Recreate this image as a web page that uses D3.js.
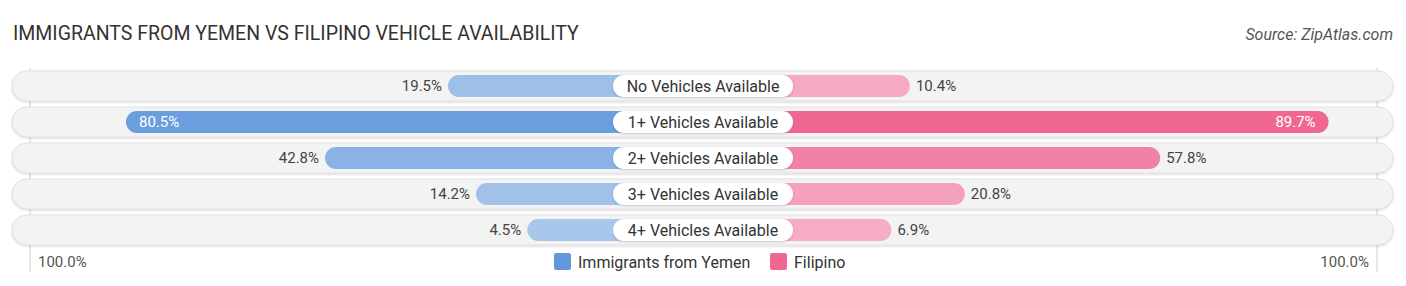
<!DOCTYPE html>
<html><head>
<meta charset="UTF-8">
<title>Immigrants from Yemen vs Filipino Vehicle Availability</title>
<script src="https://d3js.org/d3.v7.min.js"></script>
<style>
  body { margin: 0; background: #fff; font-family: Roboto, "Noto Sans", sans-serif; }
  .val { font-size: 15px; fill: #444; }
  .cat { font-size: 16px; fill: #333; }
</style>
</head>
<body>
<script>
// data
var categories = ["No Vehicles Available", "1+ Vehicles Available", "2+ Vehicles Available", "3+ Vehicles Available", "4+ Vehicles Available"];
var yemen = [19.5, 80.5, 42.8, 14.2, 4.5];
var filipino = [10.4, 89.7, 57.8, 20.8, 6.9];
var seriesNames = ["Immigrants from Yemen", "Filipino"];
var axisLabels = ["100.0%", "100.0%"];

var width = 1406, height = 286, cx = 703, gap = 152;

var svg = d3.select("body").append("svg")
    .attr("width", width)
    .attr("height", height);

var defs = svg.append("defs");
var f = defs.append("filter").attr("id", "sh").attr("x", "-5%").attr("y", "-30%").attr("width", "110%").attr("height", "160%");
f.append("feDropShadow").attr("dx", 0).attr("dy", 1).attr("stdDeviation", 1.2).attr("flood-color", "#000").attr("flood-opacity", 0.18);

// scales
var xL = d3.scaleLinear().domain([0, 100]).range([cx - gap, 23]);
var xR = d3.scaleLinear().domain([0, 100]).range([cx + gap, 1383]);
var y = d3.scaleBand().domain(categories).range([68, 248]).paddingInner(0.2).paddingOuter(0.1);

var blue = d3.scaleLinear().domain([0, 100]).range(["#adc9ec", "#5b94da"]);
var pink = d3.scaleLinear().domain([0, 100]).range(["#f7b2c8", "#ef5f8c"]);

// title
svg.append("text").attr("x", 13).attr("y", 40)
   .style("font-size", "19.5px").style("fill", "#333")
   .text("IMMIGRANTS FROM YEMEN VS FILIPINO VEHICLE AVAILABILITY");
svg.append("text").attr("x", 1393).attr("y", 40).attr("text-anchor", "end")
   .style("font-size", "16px").style("font-style", "italic").style("fill", "#555")
   .text("Source: ZipAtlas.com");

// vertical guide lines
[xL(100) + 7, xR(100) - 6].forEach(function (x) {
  svg.append("line").attr("x1", x).attr("x2", x).attr("y1", 68).attr("y2", 272)
     .style("stroke", "#ccc").style("stroke-width", 1);
});

var rows = svg.selectAll("g.row").data(categories).enter().append("g").attr("class", "row")
    .attr("transform", function (d) { return "translate(0," + (y(d) + y.bandwidth() / 2) + ")"; });

// background tracks
rows.append("rect")
    .attr("x", 12).attr("y", -15).attr("width", 1381).attr("height", 30)
    .attr("rx", 15)
    .style("fill", "#f3f3f3").style("stroke", "#dcdcdc").style("stroke-width", 0.8)
    .attr("filter", "url(#sh)");

// left bars
rows.append("rect")
    .attr("x", function (d, i) { return xL(yemen[i]); })
    .attr("y", -11).attr("height", 22)
    .attr("width", function (d, i) { return cx - xL(yemen[i]); })
    .attr("rx", 11)
    .style("fill", function (d, i) { return blue(yemen[i]); });

// right bars
rows.append("rect")
    .attr("x", cx)
    .attr("y", -11).attr("height", 22)
    .attr("width", function (d, i) { return xR(filipino[i]) - cx; })
    .attr("rx", 11)
    .style("fill", function (d, i) { return pink(filipino[i]); });

// category pills
rows.append("rect")
    .attr("x", cx - 90).attr("y", -11).attr("width", 180).attr("height", 22)
    .attr("rx", 11)
    .style("fill", "#fff")
    .attr("filter", "url(#sh)");
rows.append("text").attr("class", "cat")
    .attr("x", cx).attr("y", 5.5).attr("text-anchor", "middle")
    .text(function (d) { return d; });

// value labels
rows.append("text").attr("class", "val")
    .attr("x", function (d, i) { return yemen[i] > 60 ? xL(yemen[i]) + 13 : xL(yemen[i]) - 6; })
    .attr("y", 5)
    .attr("text-anchor", function (d, i) { return yemen[i] > 60 ? "start" : "end"; })
    .style("fill", function (d, i) { return yemen[i] > 60 ? "#fff" : "#444"; })
    .text(function (d, i) { return yemen[i].toFixed(1) + "%"; });

rows.append("text").attr("class", "val")
    .attr("x", function (d, i) { return filipino[i] > 60 ? xR(filipino[i]) - 13 : xR(filipino[i]) + 6; })
    .attr("y", 5)
    .attr("text-anchor", function (d, i) { return filipino[i] > 60 ? "end" : "start"; })
    .style("fill", function (d, i) { return filipino[i] > 60 ? "#fff" : "#444"; })
    .text(function (d, i) { return filipino[i].toFixed(1) + "%"; });

// axis labels
svg.append("text").attr("class", "val").attr("x", 38).attr("y", 267).style("fill", "#555").text(axisLabels[0]);
svg.append("text").attr("class", "val").attr("x", 1369).attr("y", 267).attr("text-anchor", "end").style("fill", "#555").text(axisLabels[1]);

// legend
var legend = [{ name: seriesNames[0], color: "#6399dc", x: 554 }, { name: seriesNames[1], color: "#f06792", x: 770 }];
legend.forEach(function (l) {
  svg.append("rect").attr("x", l.x).attr("y", 253).attr("width", 17).attr("height", 17).attr("rx", 2)
     .style("fill", l.color);
  svg.append("text").attr("x", l.x + 24).attr("y", 268)
     .style("font-size", "16px").style("fill", "#333").text(l.name);
});
</script>
</body>
</html>
